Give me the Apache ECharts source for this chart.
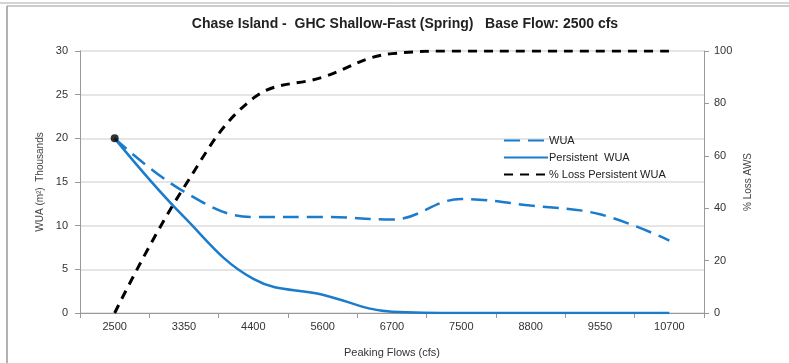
<!DOCTYPE html>
<html><head><meta charset="utf-8">
<script src="https://cdn.jsdelivr.net/npm/echarts@6/dist/echarts.min.js"></script>
<style>html,body{margin:0;padding:0;background:#fff}#c{width:789px;height:363px}</style>
</head><body><div id="c"></div>
<script>
const categories = ['2500','3350','4400','5600','6700','7500','8800','9550','10700'];
const wua = [20, 13.9, 11.0, 11.0, 10.7, 13.05, 12.3, 11.3, 8.3];
const persistentWua = [20, 11.0, 3.9, 2.1, 0.15, 0, 0, 0, 0];
const pctLoss = [0, 48, 82, 90, 99, 100, 100, 100, 100];
const leftTicks = [0, 30, 5];
const rightTicks = [0, 100, 20];

const blue = '#1b7ccc';
const font = 'Liberation Sans, Arial, sans-serif';
const chart = echarts.init(document.getElementById('c'), null, {renderer:'canvas'});
chart.setOption({
  animation:false,
  backgroundColor:'#fff',
  graphic:[
    {type:'line', shape:{x1:0,y1:3,x2:789,y2:3}, style:{stroke:'#aaa',lineWidth:1}},
    {type:'line', shape:{x1:7,y1:6,x2:789,y2:6}, style:{stroke:'#999',lineWidth:1}},
    {type:'line', shape:{x1:7,y1:6,x2:7,y2:363}, style:{stroke:'#999',lineWidth:1.5}}
  ],
  title:{text:'Chase Island -  GHC Shallow-Fast (Spring)   Base Flow: 2500 cfs', left:400, textAlign:'center', top:12,
    textStyle:{fontFamily:font,fontSize:14,fontWeight:'bold',color:'#222'}},
  grid:{left:80,right:85,top:51,bottom:49},
  legend:{orient:'vertical', left:498, top:130, itemWidth:44, itemHeight:10, itemGap:6,
    data:['WUA','Persistent  WUA','% Loss Persistent WUA'],
    itemStyle:{color:'rgba(0,0,0,0)', borderWidth:0, opacity:0},
    textStyle:{fontFamily:font,fontSize:11,color:'#222',padding:[0,0,0,-4]}},
  xAxis:{type:'category', data:categories, boundaryGap:true,
    name:'Peaking Flows (cfs)', nameLocation:'middle', nameGap:34,
    nameTextStyle:{fontFamily:font,fontSize:11,color:'#333'},
    axisLine:{lineStyle:{color:'#999'}}, axisTick:{show:true,interval:0,lineStyle:{color:'#999'}},
    axisLabel:{fontFamily:font,fontSize:11,color:'#333',margin:8,interval:0}},
  yAxis:[
    {type:'value', min:leftTicks[0], max:leftTicks[1], interval:leftTicks[2],
     name:'WUA (m\u00B2)  Thousands', nameLocation:'middle', nameGap:33, nameRotate:90,
     nameTextStyle:{fontFamily:font,fontSize:10,color:'#444'},
     axisLine:{show:true,lineStyle:{color:'#999'}}, axisTick:{show:true,lineStyle:{color:'#999'}},
     axisLabel:{fontFamily:font,fontSize:11,color:'#333',margin:12},
     splitLine:{lineStyle:{color:'#ddd',width:1.5}}},
    {type:'value', min:rightTicks[0], max:rightTicks[1], interval:rightTicks[2],
     name:'% Loss AWS', nameLocation:'middle', nameGap:36, nameRotate:90,
     nameTextStyle:{fontFamily:font,fontSize:10,color:'#444'},
     axisLine:{show:true,lineStyle:{color:'#999'}}, axisTick:{show:true,lineStyle:{color:'#999'}},
     axisLabel:{fontFamily:font,fontSize:11,color:'#333',margin:10},
     splitLine:{show:false}}
  ],
  series:[
    {name:'WUA', type:'line', data:wua, smooth:0.4, symbol:'none', yAxisIndex:0,
     lineStyle:{color:blue,width:2.5,type:[16,8]}, itemStyle:{color:blue}, z:3},
    {name:'Persistent  WUA', type:'line', data:persistentWua, smooth:0.4, symbol:'none', yAxisIndex:0,
     lineStyle:{color:blue,width:2.5}, itemStyle:{color:blue}, z:3},
    {name:'% Loss Persistent WUA', type:'line', data:pctLoss, smooth:0.4, symbol:'none', yAxisIndex:1,
     lineStyle:{color:'#000',width:3,type:[9,7]}, itemStyle:{color:'#000'}, z:4},
    {name:'start', type:'scatter', data:[[0, wua[0]]], symbol:'circle', symbolSize:8, yAxisIndex:0,
     itemStyle:{color:'#000'}, z:5}
  ]
});
</script></body></html>
